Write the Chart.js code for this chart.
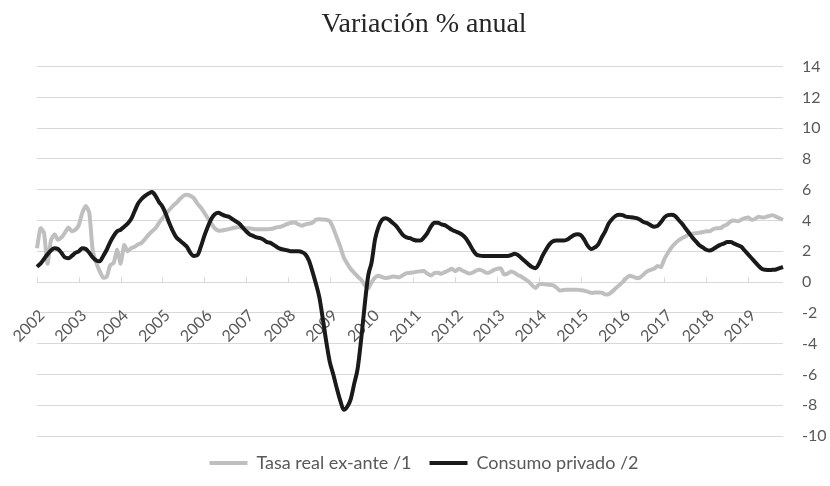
<!DOCTYPE html>
<html>
<head>
<meta charset="utf-8">
<script src="https://cdn.jsdelivr.net/npm/chart.js@4.4.1/dist/chart.umd.min.js"></script>
<style>
  html, body { margin: 0; padding: 0; background: #ffffff; }
  #wrap { width: 830px; height: 486px; }
</style>
</head>
<body>
<div id="wrap"><canvas id="c" width="830" height="486"></canvas></div>
<script>
// ---- Data (monthly, Jan 2002 - Nov 2019) ----
const years = [2002,2003,2004,2005,2006,2007,2008,2009,2010,2011,2012,2013,2014,2015,2016,2017,2018,2019];
const lastMonthOfLastYear = 11; // Nov 2019
const yTicks = [-10,-8,-6,-4,-2,0,2,4,6,8,10,12,14];

const tasaReal = [
  // 2002
  2.2, 3.5, 3.2, 1.2, 2.7, 3.1, 2.75, 2.9, 3.2, 3.55, 3.3, 3.4,
  // 2003
  3.7, 4.5, 4.95, 4.5, 2.0, 1.25, 0.7, 0.28, 0.35, 1.1, 1.25, 2.1,
  // 2004
  1.2, 2.4, 2.0, 2.2, 2.3, 2.45, 2.55, 2.8, 3.07, 3.3, 3.5, 3.85,
  // 2005
  4.15, 4.45, 4.7, 4.95, 5.15, 5.4, 5.6, 5.67, 5.6, 5.45, 5.1, 4.85,
  // 2006
  4.5, 4.15, 3.8, 3.5, 3.35, 3.35, 3.4, 3.44, 3.5, 3.55, 3.57, 3.5,
  // 2007
  3.5, 3.5, 3.45, 3.44, 3.44, 3.44, 3.44, 3.45, 3.5, 3.57, 3.6, 3.7,
  // 2008
  3.79, 3.85, 3.87, 3.75, 3.66, 3.75, 3.8, 3.85, 4.05, 4.08, 4.07, 4.05,
  // 2009
  3.95, 3.5, 2.9, 2.3, 1.6, 1.2, 0.85, 0.6, 0.36, 0.15, -0.18, -0.4,
  // 2010
  0.0, 0.3, 0.41, 0.32, 0.26, 0.3, 0.36, 0.34, 0.32, 0.45, 0.58, 0.6,
  // 2011
  0.62, 0.68, 0.7, 0.72, 0.55, 0.42, 0.58, 0.6, 0.54, 0.65, 0.75, 0.86,
  // 2012
  0.7, 0.86, 0.75, 0.65, 0.55, 0.62, 0.75, 0.8, 0.72, 0.6, 0.65, 0.78,
  // 2013
  0.86, 0.9, 0.5, 0.55, 0.69, 0.6, 0.45, 0.35, 0.2, 0.04, -0.2, -0.39,
  // 2014
  -0.15, -0.12, -0.15, -0.18, -0.2, -0.35, -0.55, -0.52, -0.5, -0.5, -0.5, -0.5,
  // 2015
  -0.53, -0.56, -0.62, -0.7, -0.68, -0.67, -0.68, -0.8, -0.78, -0.62, -0.4, -0.2,
  // 2016
  0.0, 0.25, 0.41, 0.35, 0.26, 0.3, 0.5, 0.7, 0.8, 0.86, 1.05, 0.97,
  // 2017
  1.5, 1.9, 2.25, 2.5, 2.7, 2.85, 2.96, 3.1, 3.15, 3.18, 3.2, 3.25,
  // 2018
  3.3, 3.3, 3.45, 3.5, 3.5, 3.65, 3.75, 3.95, 4.0, 3.95, 4.05, 4.15,
  // 2019
  4.2, 4.05, 4.1, 4.25, 4.2, 4.22, 4.3, 4.35, 4.25, 4.15, 4.05
];

const consumoPrivado = [
  // 2002
  1.0, 1.2, 1.5, 1.8, 2.05, 2.2, 2.15, 1.9, 1.6, 1.55, 1.7, 1.9,
  // 2003
  2.0, 2.2, 2.15, 1.9, 1.6, 1.4, 1.35, 1.7, 2.1, 2.6, 3.0, 3.3,
  // 2004
  3.4, 3.6, 3.8, 4.1, 4.6, 5.1, 5.4, 5.6, 5.75, 5.85, 5.6, 5.2,
  // 2005
  4.9, 4.4, 3.8, 3.3, 2.9, 2.7, 2.5, 2.3, 1.9, 1.7, 1.75, 2.3,
  // 2006
  3.0, 3.6, 4.1, 4.4, 4.5, 4.4, 4.3, 4.25, 4.1, 3.95, 3.8, 3.55,
  // 2007
  3.3, 3.1, 3.0, 2.9, 2.85, 2.75, 2.6, 2.55, 2.4, 2.25, 2.15, 2.1,
  // 2008
  2.05, 2.0, 2.0, 2.0, 1.95, 1.8, 1.4, 0.7, -0.1, -1.0, -2.4, -3.9,
  // 2009
  -5.2, -6.0, -6.9, -7.7, -8.3, -8.1, -7.6, -6.6, -5.6, -3.7, -1.5, 0.4,
  // 2010
  1.3, 2.8, 3.6, 4.05, 4.15, 4.05, 3.85, 3.65, 3.35, 3.05, 2.9, 2.85,
  // 2011
  2.75, 2.7, 2.7, 2.9, 3.2, 3.6, 3.85, 3.85, 3.75, 3.7, 3.55, 3.4,
  // 2012
  3.3, 3.2, 3.07, 2.85, 2.5, 2.1, 1.8, 1.72, 1.7, 1.7, 1.7, 1.7,
  // 2013
  1.7, 1.7, 1.7, 1.7, 1.75, 1.84, 1.75, 1.55, 1.35, 1.15, 0.98, 0.9,
  // 2014
  1.2, 1.7, 2.1, 2.45, 2.65, 2.7, 2.7, 2.7, 2.75, 2.9, 3.05, 3.1,
  // 2015
  3.05, 2.75, 2.35, 2.15, 2.25, 2.45, 2.9, 3.3, 3.8, 4.1, 4.3, 4.37,
  // 2016
  4.35, 4.25, 4.22, 4.2, 4.15, 4.05, 3.9, 3.83, 3.7, 3.6, 3.65, 3.9,
  // 2017
  4.2, 4.35, 4.37, 4.3, 4.05, 3.8, 3.5, 3.2, 2.9, 2.65, 2.4, 2.25,
  // 2018
  2.1, 2.05, 2.15, 2.3, 2.42, 2.5, 2.6, 2.6, 2.5, 2.4, 2.3, 2.05,
  // 2019
  1.8, 1.55, 1.3, 1.05, 0.85, 0.8, 0.78, 0.8, 0.82, 0.9, 0.98
];

// month labels built from the years list
const labels = [];
years.forEach((y, yi) => {
  const nM = (yi === years.length - 1) ? lastMonthOfLastYear : 12;
  for (let m = 1; m <= nM; m++) labels.push(y + '-' + String(m).padStart(2, '0'));
});

const GRID = '#d9d9d9';
const TEXT = '#595959';
const SANS = 'Lato, "Open Sans", sans-serif';

// small upward tick marks at each year on the zero line
const yearTicks = {
  id: 'yearTicks',
  beforeDatasetsDraw(chart) {
    const xs = chart.scales.x, ys = chart.scales.y;
    const y0 = ys.getPixelForValue(0);
    const ctx = chart.ctx;
    ctx.save();
    ctx.strokeStyle = GRID;
    ctx.lineWidth = 1;
    labels.forEach((l, i) => {
      if (l.endsWith('-01')) {
        const px = Math.round(xs.getPixelForValue(i)) + 0.5;
        ctx.beginPath();
        ctx.moveTo(px, y0);
        ctx.lineTo(px, y0 - 5);
        ctx.stroke();
      }
    });
    ctx.restore();
  }
};

new Chart(document.getElementById('c'), {
  type: 'line',
  data: {
    labels: labels,
    datasets: [
      {
        label: 'Tasa real ex-ante /1',
        data: tasaReal,
        borderColor: '#bfbfbf',
        backgroundColor: '#bfbfbf',
        borderWidth: 4,
        pointRadius: 0,
        tension: 0.2,
        order: 2
      },
      {
        label: 'Consumo privado /2',
        data: consumoPrivado,
        borderColor: '#1a1a1a',
        backgroundColor: '#1a1a1a',
        borderWidth: 4,
        pointRadius: 0,
        tension: 0.4,
        cubicInterpolationMode: 'monotone',
        order: 1
      }
    ]
  },
  options: {
    responsive: false,
    animation: false,
    devicePixelRatio: 1,
    layout: { padding: { left: 18, right: 0, top: 0, bottom: 4 } },
    plugins: {
      title: {
        display: true,
        text: 'Variación % anual',
        color: '#262626',
        font: { family: '"Liberation Serif", "DejaVu Serif", serif', size: 28, weight: 'normal' },
        padding: { top: 8, bottom: 25 }
      },
      legend: {
        display: true,
        position: 'bottom',
        labels: {
          color: TEXT,
          font: { family: SANS, size: 18 },
          boxWidth: 38,
          boxHeight: 4,
          padding: 18,
          sort: (a, b) => a.datasetIndex - b.datasetIndex,
          generateLabels(chart) {
            const items = Chart.defaults.plugins.legend.labels.generateLabels(chart);
            items.forEach(it => { it.lineWidth = 0; it.fillStyle = it.strokeStyle; });
            return items;
          }
        }
      },
      tooltip: { enabled: false }
    },
    scales: {
      x: {
        type: 'category',
        position: { y: 0 },
        offset: false,
        grid: { display: false, drawTicks: false },
        border: { display: false },
        ticks: {
          autoSkip: false,
          maxRotation: 45,
          minRotation: 45,
          padding: 24,
          labelOffset: 5,
          color: TEXT,
          font: { family: SANS, size: 16 },
          callback(v, i) { return labels[i].endsWith('-01') ? labels[i].slice(0, 4) : ''; }
        },
        afterFit(s) { s.height = 0; s.paddingLeft = 37; s.paddingRight = 0; }
      },
      y: {
        position: 'right',
        min: yTicks[0],
        max: yTicks[yTicks.length - 1],
        afterBuildTicks(s) { s.ticks = yTicks.map(v => ({ value: v })); },
        grid: { color: GRID, lineWidth: 1, drawTicks: false },
        border: { display: false },
        ticks: {
          padding: 19,
          color: TEXT,
          font: { family: SANS, size: 16 }
        },
        afterFit(s) { s.width = 47; }
      }
    }
  },
  plugins: [yearTicks]
});
</script>
</body>
</html>
